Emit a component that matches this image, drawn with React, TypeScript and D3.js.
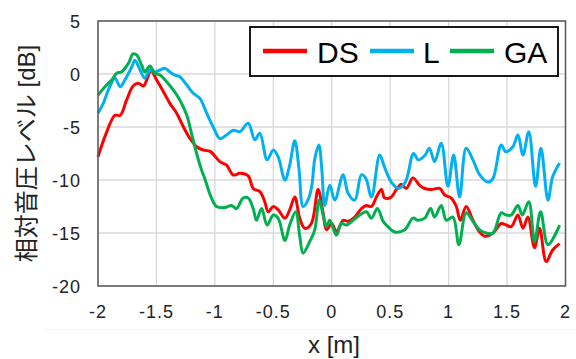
import * as d3 from "d3";

// x positions [m] and relative SPL [dB] for each method
const dsX = [-2.0, -1.93, -1.855, -1.81, -1.755, -1.7, -1.655, -1.61, -1.584, -1.547, -1.498, -1.44, -1.385, -1.327, -1.27, -1.214, -1.156, -1.1, -1.04, -0.957, -0.9, -0.843, -0.786, -0.715, -0.672, -0.615, -0.573, -0.544, -0.5, -0.459, -0.4, -0.359, -0.316, -0.274, -0.23, -0.174, -0.117, -0.074, -0.045, 0.0, 0.04, 0.097, 0.14, 0.197, 0.254, 0.297, 0.34, 0.382, 0.425, 0.453, 0.51, 0.553, 0.596, 0.638, 0.695, 0.752, 0.795, 0.852, 0.923, 0.966, 1.023, 1.066, 1.1, 1.15, 1.208, 1.265, 1.308, 1.38, 1.45, 1.493, 1.536, 1.593, 1.636, 1.678, 1.735, 1.778, 1.835, 1.89, 1.95];
const dsY = [-7.8, -5.6, -3.9, -3.9, -2.45, -1.13, -0.88, -1.13, -0.57, 0.3, -0.57, -1.67, -2.77, -3.7, -4.97, -6.07, -6.86, -7.17, -7.3, -8.27, -8.6, -9.53, -9.37, -9.62, -10.8, -11.1, -12.05, -13.0, -12.5, -12.8, -13.6, -12.8, -11.6, -13.6, -14.56, -14.1, -10.9, -13.1, -14.7, -14.1, -14.9, -13.8, -13.9, -13.5, -12.7, -12.4, -12.5, -11.6, -10.9, -11.7, -11.6, -10.9, -10.4, -10.8, -9.8, -10.5, -10.8, -10.9, -10.8, -11.4, -11.7, -12.5, -13.8, -12.5, -13.8, -14.9, -15.3, -15.0, -14.1, -14.25, -14.4, -13.3, -14.56, -13.5, -16.4, -14.56, -17.7, -16.6, -16.0];

const lX = [-2.0, -1.955, -1.9, -1.855, -1.81, -1.77, -1.71, -1.684, -1.64, -1.6, -1.556, -1.513, -1.47, -1.427, -1.385, -1.342, -1.3, -1.24, -1.185, -1.128, -1.07, -1.015, -0.957, -0.9, -0.843, -0.786, -0.715, -0.658, -0.615, -0.553, -0.5, -0.459, -0.4, -0.36, -0.316, -0.28, -0.245, -0.2, -0.17, -0.145, -0.11, -0.085, -0.06, -0.017, 0.026, 0.097, 0.14, 0.197, 0.254, 0.29, 0.34, 0.41, 0.45, 0.51, 0.57, 0.63, 0.7, 0.74, 0.8, 0.835, 0.88, 0.937, 0.994, 1.043, 1.094, 1.15, 1.208, 1.265, 1.336, 1.38, 1.45, 1.49, 1.55, 1.593, 1.636, 1.686, 1.744, 1.79, 1.85, 1.89, 1.95];
const lY = [-3.7, -2.77, -1.2, -0.4, -1.2, -0.57, 0.69, 1.3, 0.38, -0.4, 0.38, 0.2, 0.38, 0.53, 0.2, -0.1, -0.25, -1.04, -1.82, -2.3, -3.7, -4.97, -6.1, -5.75, -5.3, -5.44, -4.65, -6.2, -5.6, -8.1, -7.17, -7.8, -10.0, -8.6, -6.3, -9.0, -12.5, -11.8, -10.5, -8.0, -6.7, -9.0, -12.4, -10.5, -11.9, -9.5, -11.25, -11.9, -9.5, -9.8, -11.6, -7.64, -8.75, -10.2, -10.8, -10.2, -7.5, -8.1, -7.64, -7.0, -8.27, -6.54, -10.6, -7.64, -11.6, -7.0, -8.1, -9.5, -10.2, -9.84, -6.7, -7.33, -6.86, -5.75, -7.64, -5.44, -10.6, -7.0, -11.9, -9.7, -8.4];

const gaX = [-2.0, -1.94, -1.883, -1.84, -1.8, -1.74, -1.7, -1.67, -1.627, -1.6, -1.556, -1.513, -1.47, -1.413, -1.356, -1.3, -1.24, -1.2, -1.156, -1.114, -1.085, -1.04, -0.986, -0.915, -0.857, -0.815, -0.758, -0.715, -0.672, -0.644, -0.6, -0.553, -0.5, -0.459, -0.4, -0.36, -0.308, -0.274, -0.245, -0.188, -0.145, -0.108, -0.074, -0.045, -0.017, 0.04, 0.083, 0.125, 0.182, 0.24, 0.297, 0.34, 0.39, 0.44, 0.48, 0.538, 0.624, 0.695, 0.738, 0.795, 0.846, 0.88, 0.937, 0.98, 1.037, 1.088, 1.15, 1.208, 1.265, 1.322, 1.38, 1.45, 1.49, 1.536, 1.593, 1.63, 1.686, 1.735, 1.787, 1.85, 1.95];
const gaY = [-1.98, -1.2, -0.57, 0.07, 0.2, 1.0, 1.9, 1.8, 0.85, 0.2, 0.75, 0.07, -0.1, -0.72, -1.5, -2.45, -3.9, -5.6, -7.5, -9.05, -9.9, -11.4, -12.5, -12.6, -12.4, -12.7, -11.7, -11.7, -12.7, -13.8, -12.7, -14.25, -13.3, -13.6, -15.7, -14.25, -13.0, -15.3, -16.9, -15.8, -14.7, -11.9, -13.3, -14.4, -13.8, -15.2, -14.1, -14.25, -13.8, -13.3, -13.0, -13.6, -12.7, -13.9, -14.4, -14.9, -14.7, -13.6, -13.8, -13.6, -12.7, -13.5, -12.4, -13.8, -13.5, -16.1, -13.1, -13.9, -14.7, -15.0, -15.0, -13.1, -13.3, -13.3, -12.4, -13.3, -12.05, -15.8, -13.0, -16.1, -14.25];

const seriesNames = ["DS", "L", "GA"];
const seriesColors = ["#FF0000", "#00B0F0", "#00B050"];
const xTicks = [-2, -1.5, -1, -0.5, 0, 0.5, 1, 1.5, 2];
const yTicks = [5, 0, -5, -10, -15, -20];

const W = 576;
const H = 359;
const margin = { top: 21, right: 10.5, bottom: 73, left: 98 };

export default function App() {
  const x = d3.scaleLinear().domain([-2, 2]).range([margin.left, W - margin.right]);
  const y = d3.scaleLinear().domain([-20, 5]).range([H - margin.bottom, margin.top]);

  const line = d3
    .line<[number, number]>()
    .x((d) => x(d[0]))
    .y((d) => y(d[1]))
    .curve(d3.curveCatmullRom.alpha(0.5));

  const series = [
    d3.zip(dsX, dsY) as [number, number][],
    d3.zip(lX, lY) as [number, number][],
    d3.zip(gaX, gaY) as [number, number][],
  ];

  const font = "'Liberation Sans', Arial, 'Noto Sans CJK JP', sans-serif";

  // legend layout (line start, text start)
  const legendItems = [
    { lx: 263, tx: 317 },
    { lx: 370, tx: 423 },
    { lx: 450, tx: 504 },
  ];

  return (
    <svg width={W} height={H} style={{ position: "absolute", left: 0, top: 0 }} fontFamily={font}>
      <rect width={W} height={H} fill="#fff" />
      <line x1={43} x2={W} y1={329.5} y2={329.5} stroke="#f3f3f3" />

      {/* grid */}
      {xTicks.map((t) => (
        <line key={"gx" + t} x1={x(t)} x2={x(t)} y1={y(5)} y2={y(-20)} stroke="#d9d9d9" strokeWidth={1.3} />
      ))}
      {yTicks.map((t) => (
        <line key={"gy" + t} x1={x(-2)} x2={x(2)} y1={y(t)} y2={y(t)} stroke="#d9d9d9" strokeWidth={1.3} />
      ))}

      {/* series */}
      {series.map((s, i) => (
        <path key={seriesNames[i]} d={line(s) || ""} fill="none" stroke={seriesColors[i]} strokeWidth={3} strokeLinejoin="round" />
      ))}

      {/* plot border */}
      <rect x={x(-2)} y={y(5)} width={x(2) - x(-2)} height={y(-20) - y(5)} fill="none" stroke="#595959" strokeWidth={1.5} />

      {/* tick labels */}
      {xTicks.map((t) => (
        <text key={"tx" + t} x={x(t)} y={318} textAnchor="middle" fontSize={18} letterSpacing={1} fill="#222">
          {t}
        </text>
      ))}
      {yTicks.map((t) => (
        <text key={"ty" + t} x={81} y={y(t) + 6.5} textAnchor="end" fontSize={18} letterSpacing={1} fill="#222">
          {t}
        </text>
      ))}

      {/* axis titles */}
      <text x={334} y={353} textAnchor="middle" fontSize={24} fill="#222">
        x [m]
      </text>
      <text
        transform={`translate(35,${(y(5) + y(-20)) / 2}) rotate(-90)`}
        textAnchor="middle"
        fontSize={24}
        fill="#222"
      >
        相対音圧レベル [dB]
      </text>

      {/* legend */}
      <rect x={250} y={27} width={308} height={49} fill="#fff" stroke="#000" strokeWidth={1.8} />
      {legendItems.map((it, i) => (
        <g key={"lg" + i}>
          <line x1={it.lx} x2={it.lx + 44} y1={51} y2={51} stroke={seriesColors[i]} strokeWidth={4.5} />
          <text x={it.tx} y={62.5} fontSize={30} fill="#000">
            {seriesNames[i]}
          </text>
        </g>
      ))}
    </svg>
  );
}
